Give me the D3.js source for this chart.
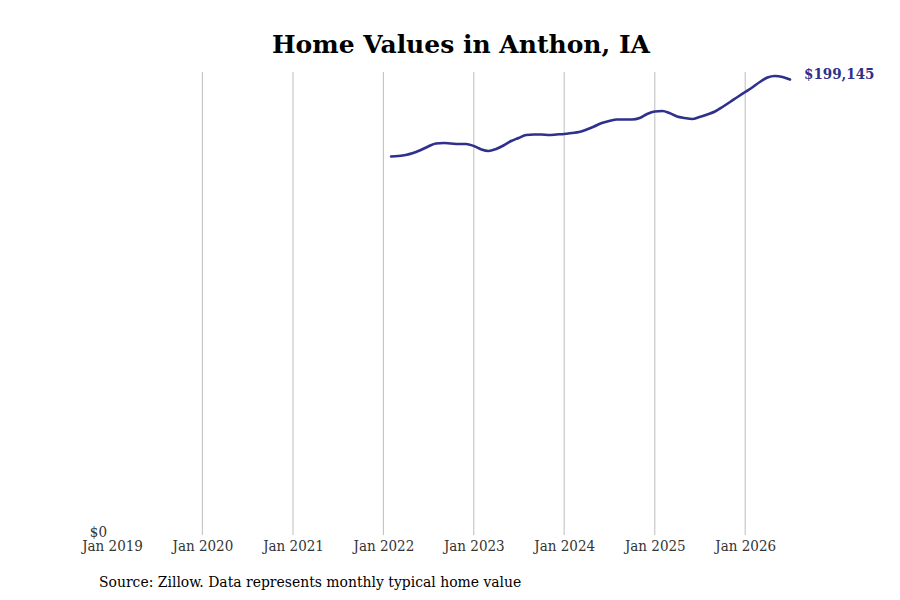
<!DOCTYPE html>
<html><head><meta charset="utf-8">
<script src="https://cdn.jsdelivr.net/npm/d3@7"></script>
<style>body{margin:0;background:#fff}svg{display:block}</style>
</head><body>
<svg id="chart" width="900" height="600"></svg>
<script>
const title = "Home Values in Anthon, IA";
const source = "Source: Zillow. Data represents monthly typical home value";
const startMonth = "2022-02";
const values = [
  165480,165700,166140,167010,168320,169850,171160,171380,171160,170940,170940,
  170070,168540,167880,168760,170290,172260,173570,174880,175100,175100,174880,175100,
  175320,175750,176190,177280,178600,180130,181000,181660,181660,181660,182310,184060,
  185150,185370,184500,182970,182310,181870,182750,183840,185150,187120,189300,191490,
  193680,195870,198050,200020,200670,200240,199145
];
const tickYears = [2019,2020,2021,2022,2023,2024,2025,2026];
const xDomain = ["2019-01","2026-07"];

const parse = d3.timeParse("%Y-%m");
const t0 = parse(startMonth);
const data = values.map((v,i)=>({date:d3.timeMonth.offset(t0,i), value:v}));

const svg = d3.select("#chart");
const m = {left:112, right:790, top:72, bottom:535};
const x = d3.scaleTime().domain(xDomain.map(parse)).range([m.left, m.right]);
const y = d3.scaleLinear().domain([0, d3.max(values)*1.0087]).range([m.bottom, m.top]);

const font = "'DejaVu Serif', serif";
const cfont = "'DejaVu Serif Condensed', 'DejaVu Serif', serif";
const lineColor = "#2f2f8c";

// gridlines
const ticks = tickYears.map(yr=>new Date(yr,0,1));
svg.append("g").selectAll("line").data(ticks.slice(1)).join("line")
  .attr("x1",d=>x(d)).attr("x2",d=>x(d))
  .attr("y1",m.top).attr("y2",m.bottom)
  .attr("stroke","#bdbdbd").attr("stroke-width",1);

// x axis
const xAxis = svg.append("g").attr("transform",`translate(0,${m.bottom})`)
  .call(d3.axisBottom(x).tickValues(ticks).tickFormat(d3.timeFormat("Jan %Y")).tickSize(0).tickPadding(5));
xAxis.select(".domain").remove();
xAxis.selectAll("text").attr("font-family",cfont).style("font-stretch","condensed")
  .attr("font-size",15).attr("fill","#333");

// y axis ($0 only)
const yAxis = svg.append("g").attr("transform",`translate(${m.left},0)`)
  .call(d3.axisLeft(y).tickValues([0]).tickFormat(d=>"$"+d3.format(",")(d)).tickSize(0).tickPadding(5));
yAxis.select(".domain").remove();
yAxis.selectAll("text").attr("font-family",cfont).style("font-stretch","condensed")
  .attr("font-size",15).attr("fill","#333").attr("dy","0.1em");

// line
const line = d3.line().x(d=>x(d.date)).y(d=>y(d.value)).curve(d3.curveMonotoneX);
svg.append("path").datum(data).attr("d",line)
  .attr("fill","none").attr("stroke",lineColor).attr("stroke-width",2.6)
  .attr("stroke-linejoin","round").attr("stroke-linecap","round");

// end label
const last = data[data.length-1];
svg.append("text").attr("x",x(last.date)+14).attr("y",y(last.value)+0)
  .attr("font-family",cfont).style("font-stretch","condensed")
  .attr("font-size",15).attr("font-weight","bold")
  .attr("fill",lineColor).text("$"+d3.format(",")(last.value));

// title
svg.append("text").attr("x",461).attr("y",53).attr("text-anchor","middle")
  .attr("font-family",font).attr("font-size",25).attr("font-weight","bold")
  .attr("fill","#000").text(title);

// source
svg.append("text").attr("x",99).attr("y",587)
  .attr("font-family",cfont).style("font-stretch","condensed")
  .attr("font-size",15.5).attr("fill","#000").text(source);
</script>
</body></html>
